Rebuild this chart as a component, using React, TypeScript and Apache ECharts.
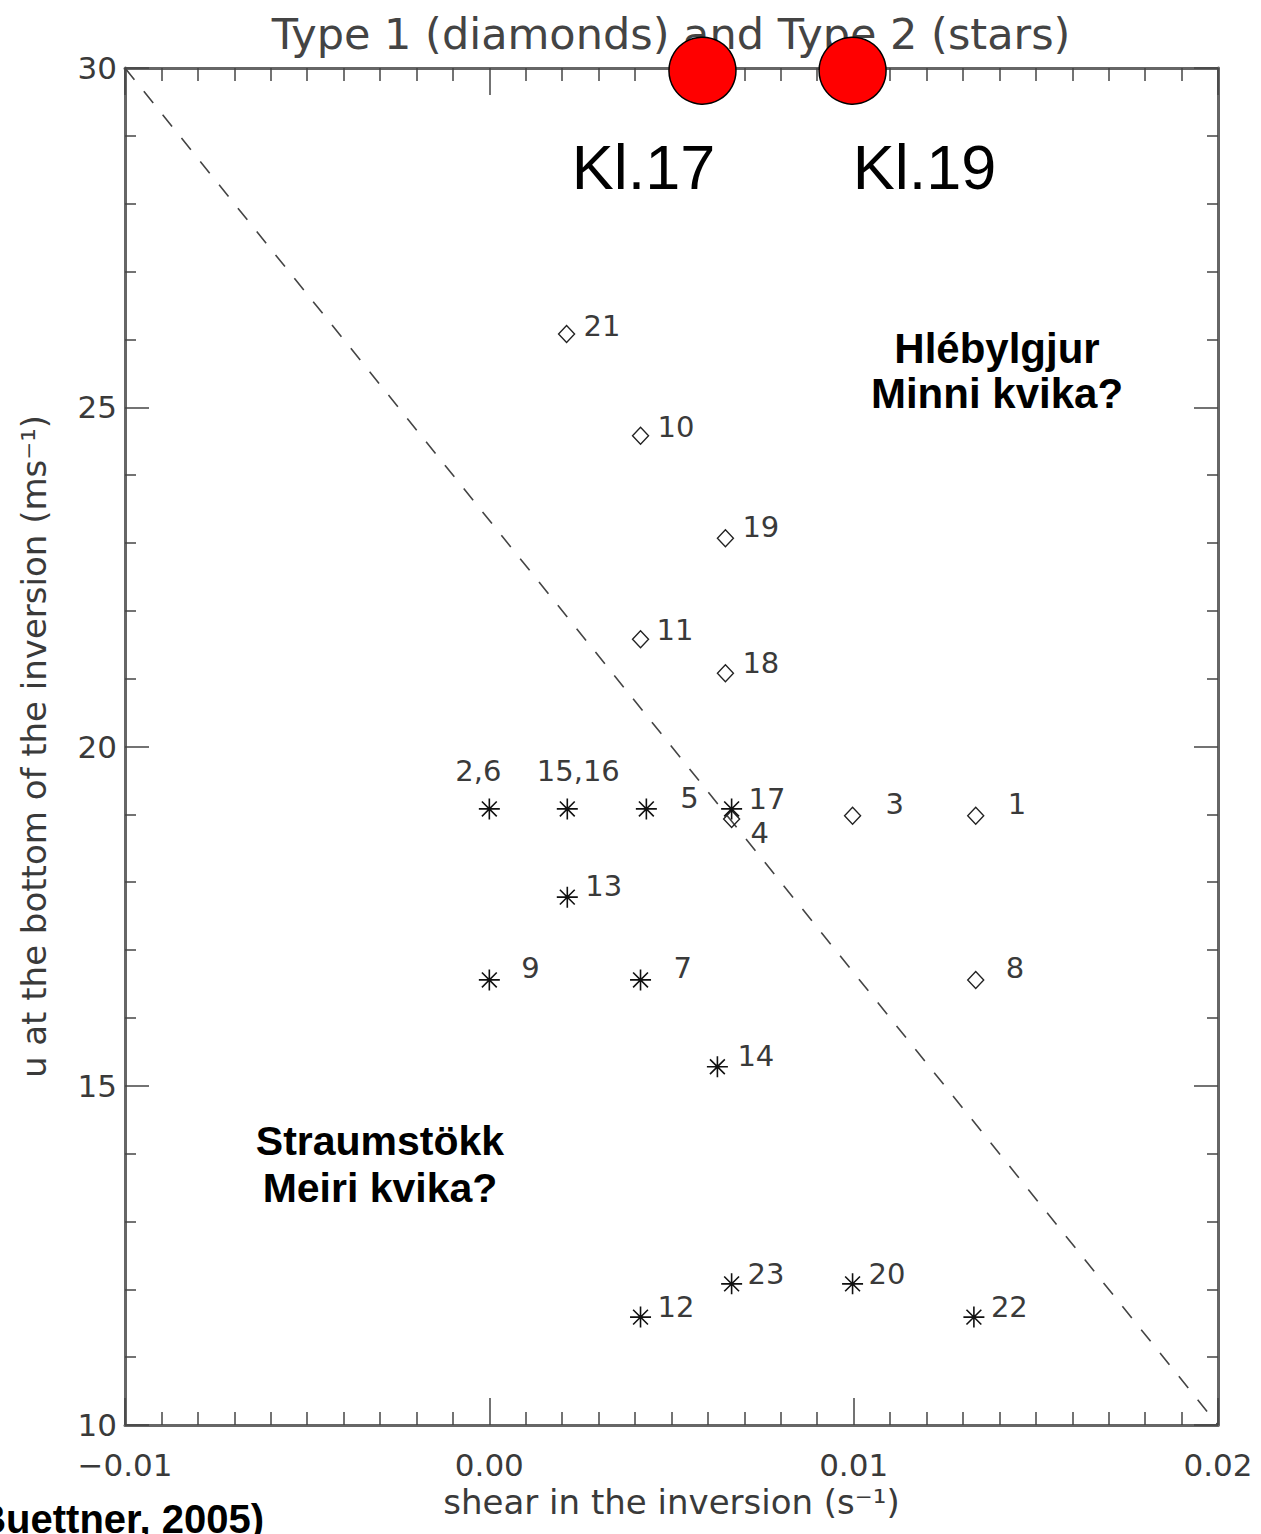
import React, { useEffect, useRef } from "react";
import * as echarts from "echarts";

// ---- data ----
const diamondX = [0.00212, 0.00415, 0.00648, 0.00415, 0.00648, 0.00665, 0.00997, 0.01335, 0.01335];
const diamondY = [26.08, 24.58, 23.07, 21.58, 21.08, 18.93, 18.98, 18.98, 16.56];
const diamondLabels = ["21", "10", "19", "11", "18", "4", "3", "1", "8"];

const starX = [0.0, 0.00214, 0.00431, 0.00665, 0.00214, 0.0, 0.00415, 0.00626, 0.00415, 0.00665, 0.00997, 0.0133];
const starY = [19.08, 19.08, 19.08, 19.08, 17.78, 16.56, 16.56, 15.28, 11.59, 12.08, 12.08, 11.59];
const starLabels = ["2,6", "15,16", "5", "17", "13", "9", "7", "14", "12", "23", "20", "22"];

const lineX = [-0.01, 0.02];
const lineY = [30, 10];

const highlightX = [0.00585, 0.00997];
const highlightY = [29.96, 29.96];
const highlightLabels = ["Kl.17", "Kl.19"];

const xTicks = [-0.01, 0.0, 0.01, 0.02];
const yTicks = [10, 15, 20, 25, 30];

// ---- label placement (style) ----
const labelPlace: Record<string, [number, number, string]> = {
  "21": [17, -8, "left"],
  "10": [17, -9, "left"],
  "19": [17, -11, "left"],
  "11": [16, -9, "left"],
  "18": [17, -10, "left"],
  "4": [19, 14, "left"],
  "3": [33, -12, "left"],
  "1": [32, -12, "left"],
  "8": [30, -12, "left"],
  "2,6": [-11, -38, "center"],
  "15,16": [11, -38, "center"],
  "5": [34, -11, "left"],
  "17": [17, -10, "left"],
  "13": [18, -11, "left"],
  "9": [32, -12, "left"],
  "7": [33, -12, "left"],
  "14": [20, -11, "left"],
  "12": [17, -10, "left"],
  "23": [16, -10, "left"],
  "20": [16, -10, "left"],
  "22": [17, -10, "left"],
};
const highlightPlace: Record<string, [number, number]> = {
  "Kl.17": [-59, 96],
  "Kl.19": [72, 96],
};

const HERSHEY = "'DejaVu Sans', sans-serif";
const ARIAL = "'Liberation Sans', Arial, sans-serif";
const AXIS_COLOR = "#666";
const TEXT_COLOR = "#3a3a3a";

const starPath =
  "path://M0,-10L0,10M-10,0L10,0M-7.07,-7.07L7.07,7.07M-7.07,7.07L7.07,-7.07";

function fmtX(v: number): string {
  const r = Math.round(v * 100) / 100;
  if (r < 0) return "\u2212" + Math.abs(r).toFixed(2);
  return r.toFixed(2);
}

function pointLabel(name: string) {
  const p = labelPlace[name] || [15, -10, "left"];
  return {
    show: true,
    position: "inside",
    formatter: name,
    align: p[2],
    verticalAlign: "middle",
    offset: [p[0], p[1]],
    fontFamily: HERSHEY,
    fontSize: 29,
    color: TEXT_COLOR,
  };
}

export default function App() {
  const ref = useRef<HTMLDivElement>(null);

  useEffect(() => {
    if (!ref.current) return;
    const chart = echarts.init(ref.current, undefined, { renderer: "svg" });

    const baseX = (pos: string, idx: number, showLabel: boolean) => ({
      type: "value",
      position: pos,
      min: xTicks[0],
      max: xTicks[xTicks.length - 1],
      interval: 0.01,
      gridIndex: 0,
      axisLine: { show: true, onZero: false, lineStyle: { color: AXIS_COLOR, width: 3 } },
      axisTick: { show: true, inside: true, length: 27, lineStyle: { color: "#444", width: 1.5 } },
      minorTick: { show: true, splitNumber: 10, length: 13, lineStyle: { color: "#444", width: 1.5 } },
      splitLine: { show: false },
      minorSplitLine: { show: false },
      axisLabel: {
        show: showLabel,
        margin: 24,
        fontFamily: HERSHEY,
        fontSize: 31,
        color: TEXT_COLOR,
        formatter: fmtX,
      },
      ...(idx === 0
        ? {
            name: "shear in the inversion (s\u207B\u00B9)",
            nameLocation: "middle",
            nameGap: 60,
            nameTextStyle: { fontFamily: HERSHEY, fontSize: 34, color: TEXT_COLOR },
          }
        : {}),
    });

    const baseY = (pos: string, idx: number, showLabel: boolean) => ({
      type: "value",
      position: pos,
      min: yTicks[0],
      max: yTicks[yTicks.length - 1],
      interval: 5,
      gridIndex: 0,
      axisLine: { show: true, onZero: false, lineStyle: { color: AXIS_COLOR, width: 3 } },
      axisTick: { show: true, inside: true, length: 24, lineStyle: { color: "#444", width: 1.5 } },
      minorTick: { show: true, splitNumber: 5, length: 11, lineStyle: { color: "#444", width: 1.5 } },
      splitLine: { show: false },
      minorSplitLine: { show: false },
      axisLabel: {
        show: showLabel,
        margin: 8,
        fontFamily: HERSHEY,
        fontSize: 31,
        color: TEXT_COLOR,
      },
      ...(idx === 0
        ? {
            name: "u at the bottom of the inversion (ms\u207B\u00B9)",
            nameLocation: "middle",
            nameGap: 74,
            nameTextStyle: { fontFamily: HERSHEY, fontSize: 34, color: TEXT_COLOR },
          }
        : {}),
    });

    const option: any = {
      animation: false,
      backgroundColor: "#ffffff",
      title: {
        text: "Type 1 (diamonds) and Type 2 (stars)",
        left: 666,
        top: 7,
        textAlign: "center",
        textStyle: { fontFamily: HERSHEY, fontSize: 43, fontWeight: "normal", color: "#444" },
      },
      grid: { left: 125, right: 43, top: 68, bottom: 109 },
      xAxis: [baseX("bottom", 0, true), baseX("top", 1, false)],
      yAxis: [baseY("left", 0, true), baseY("right", 1, false)],
      series: [
        {
          type: "line",
          data: lineX.map((x, i) => [x, lineY[i]]),
          showSymbol: false,
          symbol: "none",
          lineStyle: { color: "#444", width: 1.6, type: [15, 15] },
          z: 1,
          silent: true,
        },
        {
          type: "scatter",
          symbol: "diamond",
          symbolSize: [16, 17],
          itemStyle: { color: "rgba(0,0,0,0)", borderColor: "#222", borderWidth: 1.4, opacity: 1 },
          data: diamondX.map((x, i) => ({
            value: [x, diamondY[i]],
            label: pointLabel(diamondLabels[i]),
          })),
          z: 3,
        },
        {
          type: "scatter",
          symbol: starPath,
          symbolSize: 21,
          itemStyle: { color: "rgba(0,0,0,0)", borderColor: "#111", borderWidth: 1.6, opacity: 1 },
          data: starX.map((x, i) => ({
            value: [x, starY[i]],
            label: pointLabel(starLabels[i]),
          })),
          z: 3,
        },
        {
          type: "scatter",
          symbol: "circle",
          symbolSize: 67,
          clip: false,
          itemStyle: { color: "#ff0000", borderColor: "#000", borderWidth: 1.5, opacity: 1 },
          data: highlightX.map((x, i) => {
            const p = highlightPlace[highlightLabels[i]];
            return {
              value: [x, highlightY[i]],
              label: {
                show: true,
                position: "inside",
                formatter: highlightLabels[i],
                align: "center",
                verticalAlign: "middle",
                offset: p,
                fontFamily: ARIAL,
                fontSize: 63,
                color: "#000",
              },
            };
          }),
          z: 10,
        },
      ],
      graphic: [
        {
          type: "text",
          x: 997,
          y: 371,
          z: 20,
          style: {
            text: "Hlébylgjur\nMinni kvika?",
            textAlign: "center",
            textVerticalAlign: "middle",
            font: "bold 42px 'Liberation Sans', Arial, sans-serif",
            lineHeight: 45,
            fill: "#000",
          },
        },
        {
          type: "text",
          x: 380,
          y: 1164,
          z: 20,
          style: {
            text: "Straumstökk\nMeiri kvika?",
            textAlign: "center",
            textVerticalAlign: "middle",
            font: "bold 41px 'Liberation Sans', Arial, sans-serif",
            lineHeight: 47,
            fill: "#000",
          },
        },
        {
          type: "text",
          x: 264,
          y: 1519,
          z: 20,
          style: {
            text: "(Buettner, 2005)",
            textAlign: "right",
            textVerticalAlign: "middle",
            font: "bold 40px 'Liberation Sans', Arial, sans-serif",
            fill: "#000",
          },
        },
      ],
    };

    chart.setOption(option);
    return () => chart.dispose();
  }, []);

  return (
    <div
      ref={ref}
      style={{ position: "absolute", left: 0, top: 0, width: 1261, height: 1534, background: "#fff" }}
    />
  );
}
